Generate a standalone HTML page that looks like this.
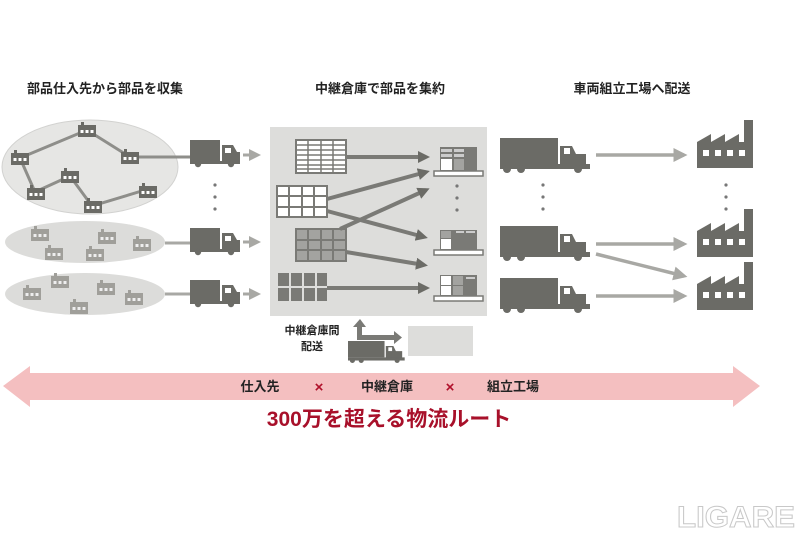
<!DOCTYPE html>
<html><head><meta charset="utf-8"><style>
html,body{margin:0;padding:0;background:#fff;}
svg{display:block;}
text{font-family:"Liberation Sans","Noto Sans CJK JP",sans-serif;font-weight:bold;}
</style></head><body>
<svg width="800" height="533" viewBox="0 0 800 533" xmlns="http://www.w3.org/2000/svg">
<defs>
<g id="fac">
  <rect x="0" y="3" width="18" height="12" fill="#6b6b66"/>
  <rect x="3" y="0" width="3" height="4" fill="#6b6b66"/>
  <rect x="2.5" y="8" width="3" height="3" fill="#fff"/><rect x="7.5" y="8" width="3" height="3" fill="#fff"/><rect x="12.5" y="8" width="3" height="3" fill="#fff"/>
</g>
<g id="facl">
  <rect x="0" y="3" width="18" height="12" fill="#a09f9a"/>
  <rect x="3" y="0" width="3" height="4" fill="#a09f9a"/>
  <rect x="2.5" y="8" width="3" height="3" fill="#eee"/><rect x="7.5" y="8" width="3" height="3" fill="#eee"/><rect x="12.5" y="8" width="3" height="3" fill="#eee"/>
</g>
<g id="truck">
  <rect x="0" y="0" width="30" height="21" fill="#6b6b66"/>
  <path d="M32 5 H43 L47 12 H50 V23 H32 Z" fill="#6b6b66"/>
  <rect x="35" y="8" width="6" height="5" fill="#fff"/>
  <rect x="0" y="21" width="50" height="3" fill="#6b6b66"/>
  <circle cx="8" cy="24" r="3.2" fill="#6b6b66"/><circle cx="41" cy="24" r="3.2" fill="#6b6b66"/>
</g>
<g id="btruck">
  <rect x="0" y="0" width="58" height="26" fill="#6b6b66"/>
  <path d="M60 8 H72 L76 16 H86 V30 H60 Z" fill="#6b6b66"/>
  <rect x="64" y="10" width="6" height="6" fill="#fff"/>
  <rect x="0" y="26" width="90" height="5" fill="#6b6b66"/>
  <circle cx="7" cy="31" r="4" fill="#6b6b66"/><circle cx="21" cy="31" r="4" fill="#6b6b66"/><circle cx="78" cy="31" r="4" fill="#6b6b66"/>
</g>
<g id="factory">
  <path d="M0 12 L14 4 V12 L28 4 V12 L42 4 V12 H47 V-10 H56 V38 H0 Z" fill="#6b6b66"/>
  <rect x="6" y="20" width="6" height="6" fill="#fff"/><rect x="18" y="20" width="6" height="6" fill="#fff"/><rect x="30" y="20" width="6" height="6" fill="#fff"/><rect x="42" y="20" width="6" height="6" fill="#fff"/>
</g>
<marker id="ah" markerWidth="3" markerHeight="3" refX="2" refY="1.5" orient="auto" markerUnits="strokeWidth"><path d="M0,0 L3,1.5 L0,3 Z" fill="#6b6b66"/></marker>
<marker id="ahl" markerWidth="4" markerHeight="4" refX="3" refY="2" orient="auto" markerUnits="strokeWidth"><path d="M0,0 L4,2 L0,4 Z" fill="#a8a8a4"/></marker>
</defs>

<text x="105" y="93" font-size="13" text-anchor="middle" fill="#222">部品仕入先から部品を収集</text>
<text x="380" y="93" font-size="13" text-anchor="middle" fill="#222">中継倉庫で部品を集約</text>
<text x="632" y="93" font-size="13" text-anchor="middle" fill="#222">車両組立工場へ配送</text>

<ellipse cx="90" cy="167" rx="88" ry="47" fill="#e6e6e4" stroke="#d2d2d0"/>
<ellipse cx="85" cy="242" rx="80" ry="21" fill="#dcdcda"/>
<ellipse cx="85" cy="294" rx="80" ry="21" fill="#dcdcda"/>
<g stroke="#8e8e8a" stroke-width="3" fill="none">
<polyline points="20,158 87,130 130,157 190,157"/>
<polyline points="20,158 35,192 70,176 92,206 145,190"/>
</g>
<use href="#fac" x="11" y="150"/><use href="#fac" x="78" y="122"/><use href="#fac" x="121" y="149"/>
<use href="#fac" x="61" y="168"/><use href="#fac" x="27" y="185"/><use href="#fac" x="84" y="198"/><use href="#fac" x="139" y="183"/>
<use href="#facl" x="31" y="226"/><use href="#facl" x="98" y="229"/><use href="#facl" x="133" y="236"/><use href="#facl" x="45" y="245"/><use href="#facl" x="86" y="246"/>
<use href="#facl" x="51" y="273"/><use href="#facl" x="23" y="285"/><use href="#facl" x="97" y="280"/><use href="#facl" x="125" y="290"/><use href="#facl" x="70" y="299"/>
<line x1="165" y1="243" x2="190" y2="243" stroke="#a8a8a4" stroke-width="3"/>
<line x1="165" y1="294" x2="190" y2="294" stroke="#a8a8a4" stroke-width="3"/>

<use href="#truck" x="190" y="140"/><use href="#truck" x="190" y="228"/><use href="#truck" x="190" y="280"/>
<g stroke="#a8a8a4" stroke-width="3" marker-end="url(#ahl)">
<line x1="243" y1="155" x2="258" y2="155"/><line x1="243" y1="242" x2="258" y2="242"/><line x1="243" y1="294" x2="258" y2="294"/>
</g>
<g fill="#777"><circle cx="215" cy="185" r="1.6"/><circle cx="215" cy="197" r="1.6"/><circle cx="215" cy="209" r="1.6"/></g>

<rect x="270" y="127" width="217" height="189" fill="#dddddb"/>
<rect x="296" y="140" width="50" height="33" fill="#fff" stroke="#7a7a76" stroke-width="2"/>
<g stroke="#7a7a76" stroke-width="1.5"><line x1="308" y1="140" x2="308" y2="173"/><line x1="321" y1="140" x2="321" y2="173"/><line x1="333" y1="140" x2="333" y2="173"/>
<line x1="296" y1="145" x2="346" y2="145"/><line x1="296" y1="150" x2="346" y2="150"/><line x1="296" y1="155" x2="346" y2="155"/><line x1="296" y1="160" x2="346" y2="160"/><line x1="296" y1="165" x2="346" y2="165"/><line x1="296" y1="169" x2="346" y2="169"/></g>
<rect x="277" y="186" width="50" height="31" fill="#fff" stroke="#7a7a76" stroke-width="2"/>
<g stroke="#7a7a76" stroke-width="2"><line x1="289" y1="186" x2="289" y2="217"/><line x1="302" y1="186" x2="302" y2="217"/><line x1="314" y1="186" x2="314" y2="217"/><line x1="277" y1="196" x2="327" y2="196"/><line x1="277" y1="207" x2="327" y2="207"/></g>
<rect x="296" y="229" width="50" height="32" fill="#a3a3a0" stroke="#7a7a76" stroke-width="2"/>
<g stroke="#7a7a76" stroke-width="2"><line x1="308" y1="229" x2="308" y2="261"/><line x1="321" y1="229" x2="321" y2="261"/><line x1="333" y1="229" x2="333" y2="261"/><line x1="296" y1="240" x2="346" y2="240"/><line x1="296" y1="250" x2="346" y2="250"/></g>
<g fill="#7a7a76"><rect x="278" y="273" width="11" height="13"/><rect x="291" y="273" width="11" height="13"/><rect x="304" y="273" width="11" height="13"/><rect x="317" y="273" width="10" height="13"/>
<rect x="278" y="288" width="11" height="13"/><rect x="291" y="288" width="11" height="13"/><rect x="304" y="288" width="11" height="13"/><rect x="317" y="288" width="10" height="13"/></g>
<g stroke="#7a7a76" stroke-width="4" marker-end="url(#ah)">
<line x1="346" y1="157" x2="426" y2="157"/>
<line x1="327" y1="199" x2="426" y2="172"/>
<line x1="327" y1="211" x2="424" y2="237"/>
<line x1="340" y1="229" x2="426" y2="190"/>
<line x1="346" y1="252" x2="424" y2="265"/>
<line x1="327" y1="288" x2="426" y2="288"/>
</g>
<g>
<rect x="440" y="147" width="37" height="24" fill="#7a7a76"/><rect x="441" y="149" width="11" height="3" fill="#ccc"/><rect x="454" y="149" width="10" height="3" fill="#ccc"/><rect x="441" y="154" width="11" height="3" fill="#ccc"/><rect x="454" y="154" width="10" height="3" fill="#ccc"/><rect x="441" y="159" width="11" height="11" fill="#fff"/><rect x="454" y="159" width="10" height="11" fill="#a3a3a0"/>
<rect x="434" y="171" width="49" height="5" fill="#fff" stroke="#7a7a76" stroke-width="1.5"/>
</g>
<g>
<rect x="440" y="230" width="37" height="20" fill="#7a7a76"/><rect x="441" y="231" width="10" height="7" fill="#a3a3a0"/><rect x="441" y="239" width="10" height="10" fill="#fff"/><rect x="456" y="231" width="8" height="2" fill="#ccc"/><rect x="466" y="231" width="9" height="2" fill="#ccc"/>
<rect x="434" y="250" width="49" height="5" fill="#fff" stroke="#7a7a76" stroke-width="1.5"/>
</g>
<g>
<rect x="440" y="275" width="37" height="21" fill="#7a7a76"/><rect x="441" y="276" width="10" height="9" fill="#fff"/><rect x="441" y="286" width="10" height="9" fill="#fff"/><rect x="453" y="276" width="10" height="9" fill="#a3a3a0"/><rect x="453" y="286" width="10" height="9" fill="#a3a3a0"/><rect x="466" y="277" width="9" height="2" fill="#ccc"/>
<rect x="434" y="296" width="49" height="5" fill="#fff" stroke="#7a7a76" stroke-width="1.5"/>
</g>
<g fill="#777"><circle cx="457" cy="186" r="1.6"/><circle cx="457" cy="198" r="1.6"/><circle cx="457" cy="210" r="1.6"/></g>

<text x="312" y="334" font-size="11" text-anchor="middle" fill="#222">中継倉庫間</text>
<text x="312" y="350" font-size="11" text-anchor="middle" fill="#222">配送</text>
<path d="M360 319 L353 327 H357 V340 H394 V344 L402 337.5 L394 331 V335 H362 V327 H366 Z" fill="#7a7a76"/>
<g transform="translate(348,341) scale(0.63)"><use href="#btruck"/></g>
<rect x="408" y="326" width="65" height="30" fill="#dddddb"/>

<use href="#btruck" x="500" y="138"/><use href="#btruck" x="500" y="226"/><use href="#btruck" x="500" y="278"/>
<g fill="#777"><circle cx="543" cy="185" r="1.6"/><circle cx="543" cy="197" r="1.6"/><circle cx="543" cy="209" r="1.6"/>
<circle cx="726" cy="185" r="1.6"/><circle cx="726" cy="197" r="1.6"/><circle cx="726" cy="209" r="1.6"/></g>
<g stroke="#a8a8a4" stroke-width="3.5" marker-end="url(#ahl)">
<line x1="596" y1="155" x2="684" y2="155"/>
<line x1="596" y1="244" x2="684" y2="244"/>
<line x1="596" y1="254" x2="684" y2="276"/>
<line x1="596" y1="296" x2="684" y2="296"/>
</g>
<use href="#factory" x="697" y="130"/><use href="#factory" x="697" y="219"/><use href="#factory" x="697" y="272"/>

<path d="M3 386 L30 366 V373 H733 V366 L760 386 L733 407 V400 H30 V407 Z" fill="#f4bfc0"/>
<text x="260" y="391" font-size="13" text-anchor="middle" fill="#222">仕入先</text>
<text x="319" y="392" font-size="15" text-anchor="middle" fill="#b0102a" font-weight="normal">×</text>
<text x="387" y="391" font-size="13" text-anchor="middle" fill="#222">中継倉庫</text>
<text x="450" y="392" font-size="15" text-anchor="middle" fill="#b0102a" font-weight="normal">×</text>
<text x="513" y="391" font-size="13" text-anchor="middle" fill="#222">組立工場</text>
<text x="389" y="426" font-size="21" text-anchor="middle" fill="#a8102a">300万を超える物流ルート</text>

<text x="736" y="527" font-size="30" text-anchor="middle" fill="#fff" stroke="#c8c8c8" stroke-width="1" font-weight="bold" textLength="118" lengthAdjust="spacingAndGlyphs">LIGARE</text>
</svg>
</body></html>
